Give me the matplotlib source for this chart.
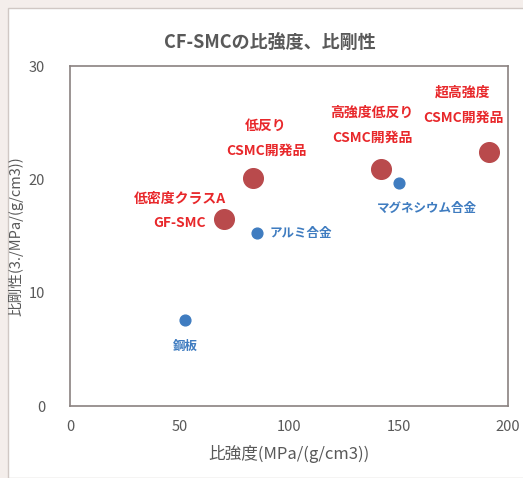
import matplotlib.pyplot as plt
from matplotlib.patches import Rectangle

plt.rcParams['font.family'] = ['Noto Sans CJK JP', 'DejaVu Sans']

# CF-SMC products (red)
cf_names = ['低密度クラスA\nGF-SMC', '低反り\nCSMC開発品', '高強度低反り\nCSMC開発品', '超高強度\nCSMC開発品']
cf_strength = [70.3, 83.6, 142.0, 191.3]
cf_stiffness = [16.5, 20.1, 20.9, 22.4]

# reference metals (blue)
metal_names = ['鋼板', 'アルミ合金', 'マグネシウム合金']
metal_strength = [52.5, 85.4, 150.0]
metal_stiffness = [7.6, 15.3, 19.7]

red = '#e8282b'
blue = '#3f7cc0'
grey = '#595959'

fig = plt.figure(figsize=(5.23, 4.78), dpi=100)
fig.patch.set_facecolor('#f4eeeb')
fig.patches.append(Rectangle((8 / 523, 0), 1, 1 - 8 / 478, transform=fig.transFigure,
                             facecolor='white', edgecolor='#d0c8c4', linewidth=1, zorder=-10))

ax = fig.add_axes([70 / 523, 72 / 478, 438 / 523, 340 / 478])
ax.set_xlim(0, 200)
ax.set_ylim(0, 30)
ax.set_xticks([0, 50, 100, 150, 200])
ax.set_yticks([0, 10, 20, 30])
ax.tick_params(length=0, colors=grey, labelsize=10.5)
ax.tick_params(axis='y', pad=18)
ax.tick_params(axis='x', pad=10)
for s in ax.spines.values():
    s.set_color('#8a8280')
    s.set_linewidth(1.2)

ax.scatter(cf_strength, cf_stiffness, s=200, color='#b94a4c', zorder=3)
ax.scatter(metal_strength, metal_stiffness, s=60, color=blue, zorder=3)

# label offsets in pixels (dx, dy)
cf_offsets = [(-44, 8), (13, 40), (-9, 44), (-26, 47)]
for name, x, y, (dx, dy) in zip(cf_names, cf_strength, cf_stiffness, cf_offsets):
    ax.annotate(name, (x, y), xytext=(dx, dy), textcoords='offset pixels',
                ha='center', va='center', color=red, fontsize=10, fontweight='bold',
                linespacing=1.95)

metal_offsets = [(0, -27, 'center'), (13, -1, 'left'), (28, -26, 'center')]
for name, x, y, (dx, dy, ha) in zip(metal_names, metal_strength, metal_stiffness, metal_offsets):
    ax.annotate(name, (x, y), xytext=(dx, dy), textcoords='offset pixels',
                ha=ha, va='center', color=blue, fontsize=9, fontweight='bold')

fig.text(270 / 523, 1 - 42 / 478, 'CF-SMCの比強度、比剛性', ha='center', va='center',
         fontsize=13, fontweight='bold', color=grey)
ax.set_xlabel('比強度(MPa/(g/cm3))', fontsize=12, color=grey, labelpad=8)
ax.set_ylabel('比剛性(3./MPa/(g/cm3))', fontsize=10.5, color=grey, labelpad=4)

fig.savefig('out.png', dpi=100)
